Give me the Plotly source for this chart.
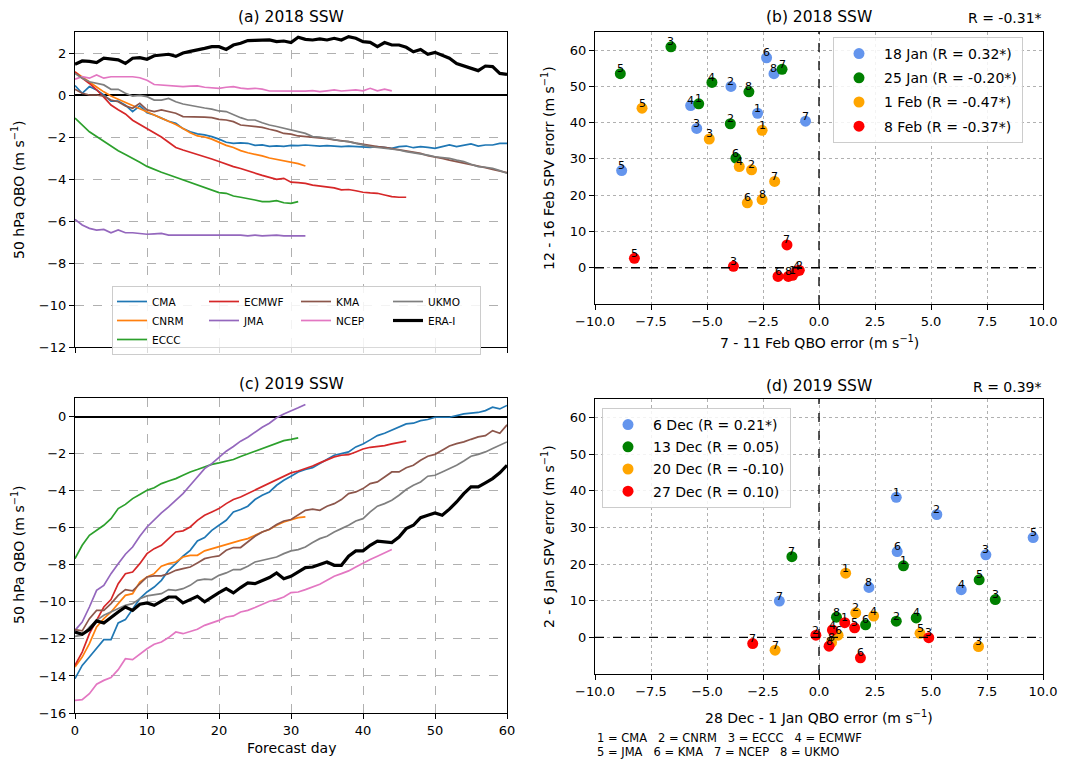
import plotly.graph_objects as go

W, H = 1072, 762
FONT = "DejaVu Sans"

# ---------------- data: panel (a) 2018 SSW, 50 hPa QBO (m/s) by forecast day ----------------
models = ["CMA", "CNRM", "ECCC", "ECMWF", "JMA", "KMA", "NCEP", "UKMO", "ERA-I"]
model_colors = ["#1f77b4", "#ff7f0e", "#2ca02c", "#d62728", "#9467bd", "#8c564b", "#e377c2", "#7f7f7f", "#000000"]

qbo18_CMA = [0.45, 0.08, 0.4, 0.24, 0.0, -0.29, -0.29, -0.48, -0.79, -0.52, -0.84, -0.95, -1.1, -1.25, -1.35,
             -1.6, -1.75, -1.85, -1.9, -1.98, -2.1, -2.25, -2.3, -2.28, -2.3, -2.4, -2.38, -2.45, -2.42, -2.45,
             -2.4, -2.41, -2.38, -2.4, -2.43, -2.41, -2.43, -2.46, -2.43, -2.44, -2.46, -2.49, -2.46, -2.51, -2.54,
             -2.46, -2.43, -2.51, -2.46, -2.49, -2.54, -2.46, -2.38, -2.46, -2.38, -2.33, -2.43, -2.38, -2.38, -2.3, -2.3]
qbo18_CNRM = [1.1, 0.85, 0.6, 0.38, 0.15, -0.05, -0.2, -0.35, -0.5, -0.65, -0.8, -0.95, -1.1, -1.25, -1.4, -1.6,
              -1.8, -1.95, -2.0, -2.1, -2.25, -2.4, -2.5, -2.65, -2.75, -2.82, -2.9, -3.0, -3.07, -3.13, -3.2, -3.27, -3.38]
qbo18_ECCC = [-1.1, -1.45, -1.75, -1.98, -2.2, -2.45, -2.65, -2.83, -3.0, -3.2, -3.4, -3.55, -3.68, -3.8, -3.92,
              -4.05, -4.17, -4.29, -4.41, -4.52, -4.65, -4.68, -4.81, -4.87, -4.92, -5.0, -5.08, -5.08, -5.03, -5.13, -5.16, -5.08]
qbo18_ECMWF = [1.1, 0.8, 0.55, 0.25, -0.1, -0.48, -0.7, -0.9, -1.2, -1.4, -1.6, -1.8, -2.0, -2.25, -2.5, -2.62,
               -2.72, -2.82, -2.95, -3.05, -3.17, -3.3, -3.41, -3.5, -3.62, -3.72, -3.83, -3.92, -4.02, -3.97, -4.15,
               -4.17, -4.21, -4.29, -4.33, -4.37, -4.42, -4.52, -4.5, -4.56, -4.63, -4.66, -4.68, -4.76, -4.84, -4.87, -4.87]
qbo18_JMA = [-5.92, -6.19, -6.35, -6.43, -6.4, -6.56, -6.43, -6.56, -6.56, -6.59, -6.63, -6.61, -6.59, -6.67, -6.67,
             -6.67, -6.65, -6.67, -6.67, -6.64, -6.67, -6.67, -6.64, -6.67, -6.71, -6.67, -6.71, -6.69, -6.67, -6.71,
             -6.71, -6.71, -6.71]
qbo18_KMA = [0.27, 0.08, 0.0, 0.0, -0.05, -0.24, -0.32, -0.52, -0.63, -0.4, -0.71, -0.79, -0.71, -0.79, -0.87, -1.03,
             -1.03, -1.06, -1.05, -1.08, -1.16, -1.19, -1.27, -1.43, -1.46, -1.5, -1.54, -1.63, -1.71, -1.83, -1.86,
             -1.95, -1.98, -2.0, -2.03, -2.08, -2.14, -2.17, -2.22, -2.29, -2.35, -2.4, -2.46, -2.49, -2.55, -2.62,
             -2.67, -2.71, -2.78, -2.89, -2.94, -3.02, -3.1, -3.17, -3.22, -3.3, -3.38, -3.46, -3.54, -3.62, -3.7]
qbo18_NCEP = [0.75, 0.87, 0.8, 0.95, 0.8, 0.87, 0.87, 0.87, 0.87, 0.82, 0.7, 0.5, 0.47, 0.45, 0.42, 0.4, 0.42, 0.43,
              0.37, 0.35, 0.32, 0.37, 0.4, 0.33, 0.29, 0.32, 0.28, 0.19, 0.19, 0.19, 0.18, 0.16, 0.18, 0.21, 0.16, 0.2,
              0.24, 0.19, 0.22, 0.24, 0.2, 0.32, 0.2, 0.28, 0.2]
qbo18_UKMO = [1.03, 0.8, 0.63, 0.56, 0.48, 0.27, 0.27, 0.08, -0.05, -0.02, -0.08, -0.24, -0.24, -0.16, -0.32, -0.43,
              -0.5, -0.56, -0.62, -0.67, -0.76, -0.79, -0.95, -1.08, -1.19, -1.19, -1.32, -1.43, -1.5, -1.59, -1.67,
              -1.75, -1.83, -1.98, -2.0, -2.06, -2.14, -2.19, -2.22, -2.3, -2.38, -2.46, -2.5, -2.54, -2.57, -2.62,
              -2.7, -2.75, -2.81, -2.86, -2.94, -2.98, -3.02, -3.1, -3.17, -3.3, -3.41, -3.44, -3.49, -3.6, -3.73]
qbo18_ERAI = [1.46, 1.62, 1.6, 1.54, 1.75, 1.72, 1.67, 1.5, 1.75, 1.78, 1.7, 1.87, 1.9, 1.94, 1.84, 2.0, 2.08, 2.14,
              2.22, 2.3, 2.3, 2.17, 2.38, 2.46, 2.59, 2.6, 2.6, 2.62, 2.54, 2.57, 2.5, 2.75, 2.65, 2.62, 2.67, 2.62,
              2.7, 2.62, 2.78, 2.7, 2.54, 2.51, 2.3, 2.5, 2.38, 2.38, 2.27, 2.06, 2.17, 1.94, 2.03, 1.9, 1.75, 1.5,
              1.38, 1.3, 1.16, 1.38, 1.35, 1.03, 0.98]

# ---------------- data: panel (c) 2019 SSW ----------------
qbo19_CMA = [-14.15, -13.43, -12.98, -12.53, -12.04, -12.04, -11.14, -10.96, -10.42, -9.83, -9.47, -9.2, -8.84, -8.3,
             -7.94, -7.54, -7.22, -6.71, -6.53, -6.14, -5.87, -5.6, -5.15, -5.02, -4.84, -4.48, -4.25, -4.07, -3.71,
             -3.44, -3.22, -2.99, -2.86, -2.76, -2.54, -2.32, -2.09, -2.0, -1.91, -1.64, -1.48, -1.26, -1.03, -0.9,
             -0.72, -0.58, -0.4, -0.36, -0.22, -0.16, -0.04, -0.04, -0.04, 0.05, 0.14, 0.18, 0.22, 0.32, 0.5, 0.41, 0.6]
qbo19_CNRM = [-13.52, -12.98, -12.26, -11.36, -10.91, -10.55, -10.1, -9.65, -9.56, -8.93, -8.66, -8.48, -8.08, -7.94,
              -7.85, -7.58, -7.49, -7.49, -7.25, -7.13, -7.04, -6.91, -6.8, -6.68, -6.59, -6.41, -6.23, -6.1, -5.87,
              -5.69, -5.56, -5.46, -5.42]
qbo19_ECCC = [-7.67, -6.95, -6.41, -6.14, -5.87, -5.51, -4.97, -4.74, -4.43, -4.21, -3.98, -3.84, -3.62, -3.48, -3.35,
              -3.17, -2.99, -2.86, -2.72, -2.58, -2.5, -2.43, -2.32, -2.16, -2.02, -1.87, -1.71, -1.57, -1.44, -1.3,
              -1.23, -1.15]
qbo19_ECMWF = [-13.43, -12.71, -11.72, -11.0, -10.28, -9.88, -9.02, -8.48, -8.39, -7.94, -7.4, -7.13, -6.95, -6.59,
               -6.23, -6.17, -5.96, -5.6, -5.33, -5.15, -4.97, -4.7, -4.48, -4.34, -4.16, -3.94, -3.8, -3.62, -3.44,
               -3.26, -3.04, -2.94, -2.81, -2.67, -2.5, -2.36, -2.18, -2.09, -2.06, -1.91, -1.75, -1.66, -1.62, -1.57,
               -1.48, -1.39, -1.33]
qbo19_JMA = [-11.54, -11.09, -10.28, -9.38, -9.11, -8.48, -7.94, -7.43, -7.04, -6.46, -5.96, -5.56, -5.2, -4.88, -4.52,
             -4.16, -3.71, -3.26, -2.81, -2.54, -2.2, -1.87, -1.62, -1.33, -1.12, -0.85, -0.58, -0.36, -0.07, 0.14,
             0.29, 0.47, 0.65]
qbo19_KMA = [-11.5, -11.57, -10.91, -10.46, -10.46, -10.1, -9.65, -9.34, -9.41, -9.02, -8.66, -8.6, -8.6, -8.48, -8.3,
             -8.21, -8.12, -7.9, -7.67, -7.58, -7.52, -7.22, -7.07, -7.07, -6.77, -6.46, -6.23, -6.08, -5.83, -5.64,
             -5.56, -5.33, -5.06, -5.0, -5.06, -4.84, -4.7, -4.48, -4.16, -4.07, -3.89, -3.62, -3.53, -3.26, -2.99,
             -2.99, -2.76, -2.63, -2.36, -2.14, -2.04, -1.82, -1.59, -1.46, -1.37, -1.23, -1.1, -1.03, -0.76, -0.9, -0.45]
qbo19_NCEP = [-15.32, -15.28, -14.96, -14.45, -14.24, -14.09, -13.66, -13.07, -13.12, -12.8, -12.53, -12.29, -12.17,
              -11.93, -11.63, -11.72, -11.59, -11.48, -11.27, -11.14, -11.0, -10.82, -10.76, -10.55, -10.46, -10.31,
              -10.15, -9.97, -9.88, -9.74, -9.5, -9.47, -9.34, -9.2, -9.05, -8.84, -8.62, -8.48, -8.33, -8.12, -7.9,
              -7.72, -7.54, -7.36, -7.18]
qbo19_UKMO = [-11.86, -11.8, -11.36, -11.0, -10.73, -10.55, -10.37, -10.19, -10.1, -9.83, -9.68, -9.61, -9.56, -9.34,
              -9.38, -9.29, -9.11, -8.84, -8.78, -8.8, -8.57, -8.44, -8.26, -8.26, -8.08, -7.85, -7.76, -7.7, -7.58,
              -7.4, -7.25, -7.18, -7.04, -6.8, -6.59, -6.46, -6.23, -6.05, -5.87, -5.64, -5.51, -5.15, -4.84, -4.7,
              -4.52, -4.25, -3.94, -3.71, -3.53, -3.22, -3.17, -2.99, -2.81, -2.63, -2.4, -2.14, -2.04, -1.91, -1.73,
              -1.55, -1.37]
qbo19_ERAI = [-11.63, -11.75, -11.5, -11.03, -11.14, -10.82, -10.55, -10.28, -10.46, -10.13, -10.06, -10.19, -9.95,
              -9.74, -9.74, -10.06, -9.88, -9.7, -10.0, -9.74, -9.5, -9.29, -9.52, -9.23, -8.98, -9.02, -8.84, -8.69,
              -8.44, -8.75, -8.62, -8.39, -8.15, -8.12, -7.97, -7.85, -8.03, -8.03, -7.54, -7.25, -7.25, -6.95, -6.73,
              -6.76, -6.8, -6.5, -6.05, -5.87, -5.46, -5.33, -5.2, -5.33, -5.0, -4.61, -4.16, -3.8, -3.8, -3.58, -3.35,
              -3.04, -2.63]

qbo18 = [qbo18_CMA, qbo18_CNRM, qbo18_ECCC, qbo18_ECMWF, qbo18_JMA, qbo18_KMA, qbo18_NCEP, qbo18_UKMO, qbo18_ERAI]
qbo19 = [qbo19_CMA, qbo19_CNRM, qbo19_ECCC, qbo19_ECMWF, qbo19_JMA, qbo19_KMA, qbo19_NCEP, qbo19_UKMO, qbo19_ERAI]
legend_columns = [1, 1, 1, 2, 2, 3, 3, 4, 4]

# ---------------- data: panel (b) 2018 scatter (QBO error, SPV error), model numbers 1..8 ----------------
model_ids = [1, 2, 3, 4, 5, 6, 7, 8]
b_labels = ["18 Jan (R = 0.32*)", "25 Jan (R = -0.20*)", "1 Feb (R = -0.47*)", "8 Feb (R = -0.37*)"]
b_qbo = [
    [-2.74, -3.93, -5.46, -5.73, -8.81, -2.34, -0.6, -2.01],
    [-5.37, -3.96, -6.61, -4.78, -8.87, -3.71, -1.65, -3.13],
    [-2.54, -3.01, -4.9, -3.56, -7.9, -3.2, -1.98, -2.54],
    [-1.18, -0.88, -3.82, -1.0, -8.24, -1.83, -1.43, -1.37],
]
b_spv = [
    [42.6, 50.0, 38.4, 44.7, 26.8, 57.9, 40.4, 53.5],
    [45.2, 39.7, 60.9, 51.1, 53.5, 30.2, 54.7, 48.5],
    [37.9, 27.0, 35.5, 27.9, 44.0, 17.9, 23.8, 18.8],
    [-2.1, -0.7, 0.4, -0.9, 2.6, -2.4, 6.3, -2.4],
]

# ---------------- data: panel (d) 2019 scatter ----------------
d_labels = ["6 Dec (R = 0.21*)", "13 Dec (R = 0.05)", "20 Dec (R = -0.10)", "27 Dec (R = 0.10)"]
d_qbo = [
    [3.45, 5.26, 7.45, 6.35, 9.56, 3.49, -1.77, 2.23],
    [3.77, 3.45, 7.87, 4.34, 7.15, 2.08, -1.21, 0.78],
    [1.19, 1.64, 7.12, 2.44, 4.51, 0.85, -1.96, 0.56],
    [1.15, -0.14, 4.9, 0.6, 1.59, 1.85, -2.96, 0.45],
]
d_spv = [
    [38.2, 33.5, 22.5, 13.0, 27.2, 23.4, 9.9, 13.6],
    [19.5, 4.4, 10.3, 5.3, 15.7, 3.4, 22.0, 5.5],
    [17.5, 6.7, -2.5, 5.8, 1.1, 0.6, -3.5, -1.4],
    [4.0, 0.6, -0.1, 2.0, 2.6, -5.6, -1.7, -2.4],
]
init_colors = ["cornflowerblue", "green", "orange", "red"]

# ---------------- figure ----------------
fig = go.Figure()

def px_x(p):
    return p / W

def px_y(p):
    return 1 - p / H

for i, name in enumerate(models):
    is_era = name == "ERA-I"
    for vals, xa, ya, show in [(qbo18[i], "x", "y", True), (qbo19[i], "x3", "y3", False)]:
        fig.add_trace(go.Scatter(
            x=list(range(len(vals))), y=vals, mode="lines", name=name,
            line=dict(color=model_colors[i], width=3.2 if is_era else 1.7),
            xaxis=xa, yaxis=ya, showlegend=show, legend="legend",
            legendgroup="col%d" % legend_columns[i],
        ))

for k in range(4):
    fig.add_trace(go.Scatter(
        x=b_qbo[k], y=b_spv[k], mode="markers", name=b_labels[k],
        marker=dict(color=init_colors[k], size=11, line=dict(width=0)),
        xaxis="x2", yaxis="y2", legend="legend2", legendgroup="b%d" % k,
    ))
    fig.add_trace(go.Scatter(
        x=d_qbo[k], y=d_spv[k], mode="markers", name=d_labels[k],
        marker=dict(color=init_colors[k], size=11, line=dict(width=0)),
        xaxis="x4", yaxis="y4", legend="legend3", legendgroup="d%d" % k,
    ))

annotations = []
for xs_all, ys_all, xr, yr in [(b_qbo, b_spv, "x2", "y2"), (d_qbo, d_spv, "x4", "y4")]:
    for k in range(4):
        for j, mid in enumerate(model_ids):
            annotations.append(dict(
                x=xs_all[k][j], y=ys_all[k][j], xref=xr, yref=yr, text=str(mid),
                showarrow=False, yshift=5, font=dict(size=11, color="black", family=FONT),
            ))

def txt(x, y, text, size=14, xanchor="center", yanchor="middle", angle=0):
    annotations.append(dict(
        x=px_x(x), y=px_y(y), xref="paper", yref="paper", text=text, showarrow=False,
        xanchor=xanchor, yanchor=yanchor, textangle=angle,
        font=dict(size=size, color="black", family=FONT),
    ))

unit = "(m s<sup>\u22121</sup>)"
txt(291, 17, "(a) 2018 SSW", 15.5)
txt(819, 17, "(b) 2018 SSW", 15.5)
txt(1044, 18, "R = -0.31*", 14, xanchor="right")
txt(291, 384, "(c) 2019 SSW", 15.5)
txt(819, 386, "(d) 2019 SSW", 15.5)
txt(1044, 387, "R = 0.39*", 14, xanchor="right")
txt(18, 190, "50 hPa QBO " + unit, 14, angle=-90)
txt(18, 555, "50 hPa QBO " + unit, 14, angle=-90)
txt(291, 748, "Forecast day", 14)
txt(819, 342, "7 - 11 Feb QBO error " + unit, 14)
txt(548, 168, "12 - 16 Feb SPV erorr " + unit, 14, angle=-90)
txt(819, 717, "28 Dec - 1 Jan QBO error " + unit, 14)
txt(548, 537, "2 - 6 Jan SPV error " + unit, 14, angle=-90)
txt(595, 738, "1 = CMA   2 = CNRM   3 = ECCC   4 = ECMWF", 11.5, xanchor="left")
txt(595, 752, "5 = JMA   6 = KMA   7 = NCEP   8 = UKMO", 11.5, xanchor="left")

shapes = []
for xr, yr in [("x2", "y2"), ("x4", "y4")]:
    shapes.append(dict(type="line", xref=xr, yref=yr + " domain", x0=0, x1=0, y0=0, y1=1,
                       line=dict(color="black", width=1.3, dash="dash")))
    shapes.append(dict(type="line", xref=xr + " domain", yref=yr, x0=0, x1=1, y0=0, y1=0,
                       line=dict(color="black", width=1.3, dash="dash")))

tickfont = dict(size=13, color="black", family=FONT)
common = dict(showline=True, linecolor="black", linewidth=1.2, mirror=True, ticks="outside",
              ticklen=5, tickwidth=1, tickcolor="black", tickfont=tickfont, showgrid=True,
              gridcolor="#b0b0b0", gridwidth=0.8, zeroline=False, automargin=False)
line_ax = dict(common, griddash="dash")
sc_ax = dict(common, griddash="dot")

fig.update_layout(
    template="none",
    width=W, height=H, margin=dict(l=0, r=0, t=0, b=0, autoexpand=False),
    paper_bgcolor="white", plot_bgcolor="white",
    font=dict(family=FONT, color="black"),
    xaxis=dict(line_ax, domain=[px_x(75), px_x(507)], range=[0, 60], dtick=10, showticklabels=False, anchor="y"),
    yaxis=dict(line_ax, domain=[px_y(347), px_y(32)], range=[-12, 3], dtick=2, anchor="x",
               zeroline=True, zerolinecolor="black", zerolinewidth=1.5),
    xaxis3=dict(line_ax, domain=[px_x(75), px_x(507)], range=[0, 60], dtick=10, anchor="y3"),
    yaxis3=dict(line_ax, domain=[px_y(713), px_y(398)], range=[-16, 1], dtick=2, anchor="x3",
                zeroline=True, zerolinecolor="black", zerolinewidth=1.5),
    xaxis2=dict(sc_ax, domain=[px_x(595), px_x(1043)], range=[-10, 10], dtick=2.5, tickformat=".1f", anchor="y2"),
    yaxis2=dict(sc_ax, domain=[px_y(304), px_y(32)], range=[-10, 65], tickvals=[0, 10, 20, 30, 40, 50, 60], anchor="x2"),
    xaxis4=dict(sc_ax, domain=[px_x(595), px_x(1043)], range=[-10, 10], dtick=2.5, tickformat=".1f", anchor="y4"),
    yaxis4=dict(sc_ax, domain=[px_y(674), px_y(399)], range=[-10, 65], tickvals=[0, 10, 20, 30, 40, 50, 60], anchor="x4"),
    legend=dict(x=px_x(112), y=px_y(286), xanchor="left", yanchor="top", orientation="h",
                traceorder="grouped", tracegroupgap=0, font=dict(size=10.5, family=FONT),
                bgcolor="rgba(255,255,255,0.85)", bordercolor="#cccccc", borderwidth=1,
                itemwidth=30, entrywidth=47),
    legend2=dict(x=px_x(833), y=px_y(37), xanchor="left", yanchor="top", traceorder="grouped",
                 font=dict(size=14, family=FONT), bgcolor="rgba(255,255,255,0.85)",
                 bordercolor="#cccccc", borderwidth=1, tracegroupgap=3, itemwidth=40),
    legend3=dict(x=px_x(602), y=px_y(408), xanchor="left", yanchor="top", traceorder="grouped",
                 font=dict(size=14, family=FONT), bgcolor="rgba(255,255,255,0.85)",
                 bordercolor="#cccccc", borderwidth=1, tracegroupgap=1, itemwidth=40),
    annotations=annotations, shapes=shapes,
)

fig.write_html("out.html", config={"displayModeBar": False},
               post_script="document.body.style.margin='0px';document.body.style.overflow='hidden';")
